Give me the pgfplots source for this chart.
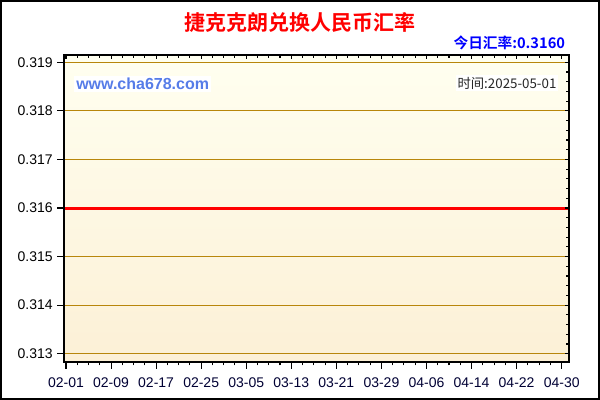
\documentclass[border=0pt]{standalone}
\usepackage{fontspec}
\usepackage{pgfplots}
\pgfplotsset{compat=1.18}
\setmainfont{Liberation Sans}
\newfontfamily\cjk{Noto Sans CJK SC}[BoldFont={Noto Sans CJK SC Bold}]

\definecolor{gridgold}{RGB}{184,134,11}
\definecolor{bgtop}{RGB}{255,255,240}
\definecolor{bgbot}{RGB}{252,240,214}
\definecolor{navy}{RGB}{0,0,51}
\definecolor{webblue}{RGB}{86,124,232}

% czk -> cny daily rate
\pgfplotstableread{
day rate
-0.35 0.3160
0 0.3160
30 0.3160
60 0.3160
88 0.3160
89.3 0.3160
}\ratetable

\begin{document}
\begin{tikzpicture}
\path[use as bounding box] (0,0) rectangle (450pt,300pt);

\pgfplotsset{
  chartbase/.style={
    at={(48pt,28.5pt)}, anchor=south west,
    width=378.75pt, height=230.25pt, scale only axis,
    xmin=-0.35, xmax=89.3, ymin=0.31283, ymax=0.31915,
    axis line style={black, line width=1pt},
  },
}

% main axis: background, grid, line, left/bottom ticks
\begin{axis}[
  chartbase,
  axis background/.style={top color=bgtop, bottom color=bgbot},
  xtick={0,8,16,24,32,40,48,56,64,72,80,88},
  xticklabels={02-01,02-09,02-17,02-25,03-05,03-13,03-21,03-29,04-06,04-14,04-22,04-30},
  minor xtick={2,4,6,10,12,14,18,20,22,26,28,30,34,36,38,42,44,46,50,52,54,58,60,62,66,68,70,74,76,78,82,84,86},
  ytick={0.313,0.314,0.315,0.316,0.317,0.318,0.319},
  tick pos=left, tick align=outside,
  major tick length=5pt, minor tick length=2.5pt,
  tick style={black, line width=0.8pt},
  ymajorgrids,
  major grid style={gridgold, line width=0.9pt},
  /pgf/number format/assume math mode=true,
  yticklabel style={/pgf/number format/fixed, /pgf/number format/precision=3,
    /pgf/number format/fixed zerofill, font=\fontsize{10.5}{12}\selectfont},
  scaled y ticks=false,
  xticklabel style={font=\fontsize{10.5}{12}\selectfont, text=navy, yshift=-3pt},
]
\addplot[red, line width=2.25pt] table[x=day, y=rate] {\ratetable};
\end{axis}

% left minor ticks crossing the axis
\begin{axis}[
  chartbase,
  xtick=\empty, ytick=\empty,
  minor ytick={0.3132,0.3134,0.3136,0.3138,0.3142,0.3144,0.3146,0.3148,0.3152,0.3154,0.3156,0.3158,0.3162,0.3164,0.3166,0.3168,0.3172,0.3174,0.3176,0.3178,0.3182,0.3184,0.3186,0.3188},
  tick pos=left, tick align=center,
  minor tick length=5pt,
  tick style={black, line width=0.8pt},
]
\end{axis}

% top and right ticks, inside
\begin{axis}[
  chartbase,
  xtick={0,8,16,24,32,40,48,56,64,72,80,88},
  minor xtick={2,4,6,10,12,14,18,20,22,26,28,30,34,36,38,42,44,46,50,52,54,58,60,62,66,68,70,74,76,78,82,84,86},
  ytick={0.313,0.314,0.315,0.316,0.317,0.318,0.319},
  minor ytick={0.3132,0.3134,0.3136,0.3138,0.3142,0.3144,0.3146,0.3148,0.3152,0.3154,0.3156,0.3158,0.3162,0.3164,0.3166,0.3168,0.3172,0.3174,0.3176,0.3178,0.3182,0.3184,0.3186,0.3188},
  xticklabels={}, yticklabels={},
  tick pos=right, tick align=inside,
  major tick length=3pt, minor tick length=2pt,
  tick style={black, line width=0.8pt},
]
\end{axis}

% titles and notes
\node[font=\cjk\bfseries\fontsize{15.75}{18}\selectfont, text=red] at (225pt,282.75pt) {捷克克朗兑换人民币汇率};
\node[font=\cjk\bfseries\fontsize{11}{13}\selectfont, text=blue, anchor=east, inner sep=0pt] at (424pt,267.75pt) {今日汇率:0.3160};
\node[font=\bfseries\fontsize{12}{14}\selectfont, text=webblue, anchor=west, fill=white, inner sep=1.5pt] at (55.5pt,237pt) {www.cha678.com};
\node[font=\cjk\fontsize{10}{12}\selectfont, text=black!85, anchor=east, fill=white, inner sep=1.5pt] at (419pt,237.75pt) {时间:2025-05-01};

% outer frame
\draw[black, line width=1.5pt] (0.75pt,0.75pt) rectangle (449.25pt,299.25pt);
\end{tikzpicture}
\end{document}
